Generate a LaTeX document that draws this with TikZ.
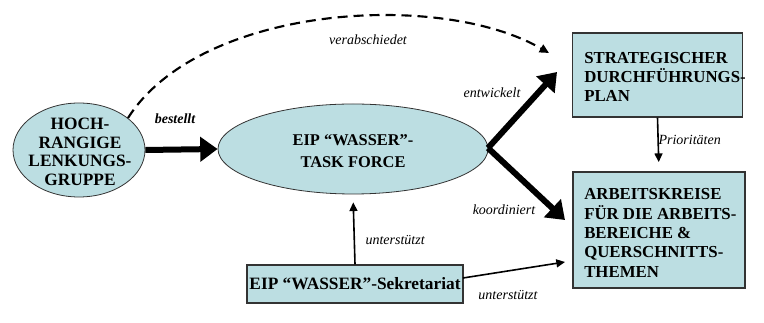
\documentclass[tikz,border=0pt]{standalone}
\usepackage{fontspec}
\setmainfont{Liberation Serif}
\usetikzlibrary{arrows.meta,shapes.geometric}
\definecolor{fillc}{HTML}{BCDEE2}
\begin{document}
\begin{tikzpicture}[x=0.75pt,y=-0.75pt,
  ell/.style={ellipse,draw=black!80,line width=0.6pt,fill=fillc,inner sep=0pt},
  boxn/.style={rectangle,draw=black!80,line width=0.9pt,fill=fillc,inner sep=0pt},
  bt/.style={font=\bfseries\fontsize{12.6}{14.5}\selectfont,inner sep=0pt},
  thick arr/.style={line width=4.5pt,-{Triangle[length=13pt,width=18pt]}},
  thin arr/.style={line width=1.2pt,-{Triangle[length=6.5pt,width=6pt]}},
  lab/.style={font=\itshape\fontsize{10.5}{12}\selectfont,inner sep=1pt}
]
\useasboundingbox (0,0) rectangle (764,323);
% nodes
\node[ell,minimum width=99pt,minimum height=70.5pt] (hlg) at (79,150) {};
\node[bt,align=center,font=\bfseries\fontsize{13}{14}\selectfont] (hlgt) at (80,152) {HOCH-\\RANGIGE\\LENKUNGS-\\GRUPPE};
\node[ell,minimum width=202.5pt,minimum height=67.5pt] (tf) at (353,149) {};
\node[bt,align=center,font=\bfseries\fontsize{12.3}{16}\selectfont] (tft) at (353,151) {EIP “WASSER”-\\TASK FORCE};
\node[boxn,minimum width=128pt,minimum height=63pt] (sdp) at (657.5,75) {};
\node[bt,align=left,anchor=west] (sdpt) at (584,77) {STRATEGISCHER\\DURCHFÜHRUNGS-\\PLAN};
\node[boxn,minimum width=129pt,minimum height=87pt] (ak) at (659,230) {};
\node[bt,align=left,anchor=west] (akt) at (584,233) {ARBEITSKREISE\\FÜR DIE ARBEITS-\\BEREICHE \&\\QUERSCHNITTS-\\THEMEN};
\node[boxn,minimum width=162pt,minimum height=28.5pt,bt,align=center,font=\bfseries\fontsize{13}{14.5}\selectfont] (sek) at (355,284) {EIP “WASSER”-Sekretariat};
% connectors
\coordinate (tip) at (488,148);
\coordinate (dashstart) at (128,118);
\coordinate (dashend) at (549,53);
\draw[thick arr] (hlg.east) -- (tf.west);
\node[lab,font=\bfseries\itshape\fontsize{10.5}{12}\selectfont] (best) at (175,119) {bestellt};
\draw[line width=1.6pt,dash pattern=on 7.5pt off 4.5pt,-{Triangle[length=7pt,width=6.5pt]}] (dashstart) .. controls (200,5) and (440,-10) .. (dashend);
\node[lab] (verab) at (368,40) {verabschiedet};
\draw[thick arr] (tip) -- (557,72);
\draw[thick arr] (tip) -- (565,220);
\node[lab] (entw) at (492,93) {entwickelt};
\node[lab] (koord) at (504,210) {koordiniert};
\draw[thin arr,shorten >=7pt] (sdp.south) -- (ak.north);
\node[lab,anchor=west] (prio) at (657,140) {Prioritäten};
\draw[thin arr,shorten >=6pt] (sek.north) -- (tf.south);
\node[lab,anchor=west] (unt1) at (364,240) {unterstützt};
\coordinate (sekout) at (463,278);
\coordinate (akin) at (565,262);
\draw[thin arr] (sekout) -- (akin);
\node[lab] (unt2) at (508,295) {unterstützt};
\end{tikzpicture}
\end{document}
